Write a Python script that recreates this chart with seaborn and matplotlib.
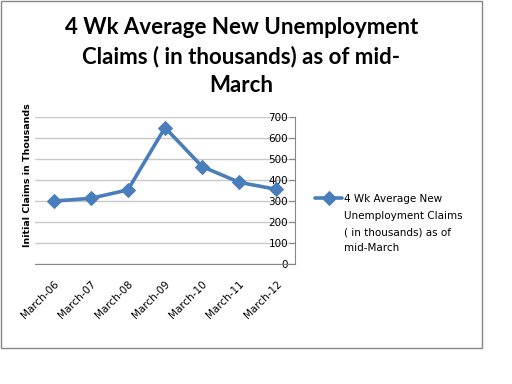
import matplotlib
matplotlib.use('Agg')
import matplotlib.pyplot as plt
from matplotlib.patches import Rectangle
import seaborn as sns
import pandas as pd

# chart data
years = ["March-06", "March-07", "March-08", "March-09", "March-10", "March-11", "March-12"]
claims = [299, 312, 352, 648, 463, 388, 355]
yticks = [0, 100, 200, 300, 400, 500, 600, 700]

title_text = "4 Wk Average New Unemployment\nClaims ( in thousands) as of mid-\nMarch"
ylabel_text = "Initial Claims in Thousands"
legend_first = "4 Wk Average New"
legend_rest = "Unemployment Claims\n( in thousands) as of\nmid-March"

df = pd.DataFrame({"year": years, "claims": claims})

sns.set_style("white")
plt.rcParams['font.family'] = ['DejaVu Sans']
plt.rcParams['text.color'] = 'black'
plt.rcParams['axes.labelcolor'] = 'black'
plt.rcParams['xtick.color'] = 'black'
plt.rcParams['ytick.color'] = 'black'

line_color = "#4a7ebb"
axis_gray = "#868686"
small = 7.5

fig = plt.figure(figsize=(5.12, 3.84), dpi=100)
ax = fig.add_axes([35 / 512, 1 - 264 / 384, 260 / 512, (264 - 116.7) / 384])

sns.lineplot(data=df, x="year", y="claims", sort=False, ax=ax,
             color=line_color, linewidth=2.6, marker="D", markersize=7.5,
             markeredgecolor=line_color, label=legend_first)

ax.set_xlim(-0.5, len(years) - 0.5)
ax.set_ylim(0, 700)
ax.set_yticks(yticks)
ax.grid(axis="y", color="#c8c8c8", linewidth=1)
ax.set_axisbelow(True)

# value axis sits on the right edge, labels inside the plot
ax.spines['left'].set_position(('data', len(years) - 0.5))
ax.spines['left'].set_color(axis_gray)
ax.spines['bottom'].set_color(axis_gray)
ax.spines['top'].set_visible(False)
ax.spines['right'].set_visible(False)
ax.tick_params(axis="y", direction="out", length=4, color=axis_gray,
               labelcolor="black", labelsize=small, pad=1, left=True)
ax.tick_params(axis="x", length=0, labelcolor="black", labelsize=small, pad=11)
for lbl in ax.get_xticklabels():
    lbl.set_rotation(45)
    lbl.set_ha("right")
    lbl.set_rotation_mode("anchor")

ax.set_xlabel("")
ax.set_ylabel(ylabel_text, fontsize=6.8, fontweight="bold", color="black")
ax.yaxis.set_label_coords(-0.012, 0.604)

fig.suptitle(title_text, x=241.5 / 512, y=1 - 17 / 384, va="top",
             fontsize=16, fontweight="bold", linespacing=1.43, color="black",
             family=['Lato', 'DejaVu Sans'])

# legend: first line next to the marker, remaining lines below
leg = ax.legend(loc="center left", bbox_to_anchor=(315 / 512, 1 - 199 / 384),
                bbox_transform=fig.transFigure, frameon=False, fontsize=small,
                borderpad=0, borderaxespad=0, handlelength=2.6, handletextpad=0.15)
for t in leg.get_texts():
    t.set_color("black")
fig.text(344 / 512, 1 - 232.3 / 384, legend_rest, color="black",
         fontsize=small, va="center", ha="left", linespacing=1.75)

# chart frame
fig.add_artist(Rectangle((1 / 512, 1 - 348 / 384), 481 / 512, 347 / 384,
                         transform=fig.transFigure, fill=False,
                         edgecolor=axis_gray, linewidth=1))

fig.savefig("out.png", dpi=100)
